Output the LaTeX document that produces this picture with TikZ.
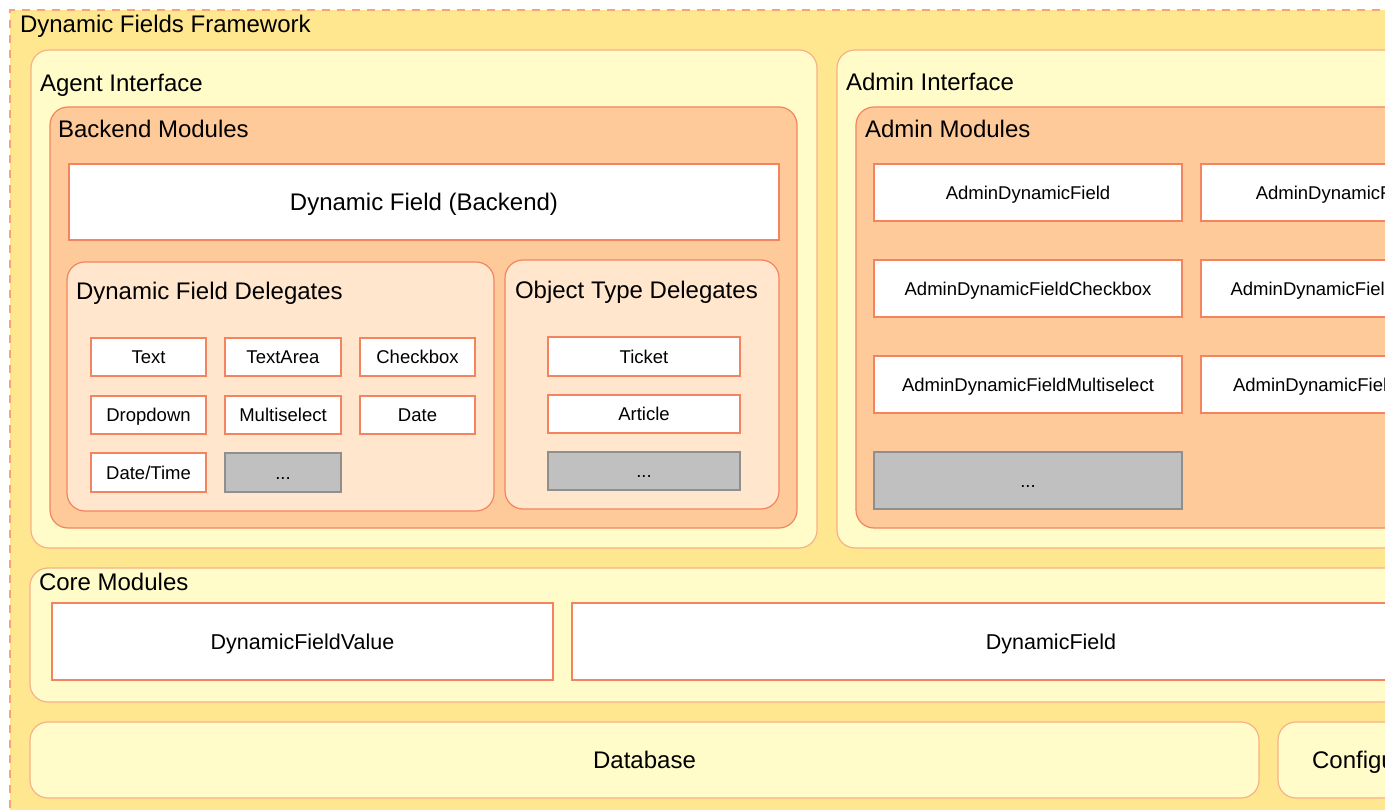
\documentclass[tikz,border=0pt]{standalone}
\usepackage{fontspec}
\setmainfont{Liberation Sans}
\definecolor{outery}{HTML}{FFE78F}
\definecolor{dashc}{HTML}{F9A27C}
\definecolor{lyel}{HTML}{FFFCC9}
\definecolor{lyelb}{HTML}{F8B08A}
\definecolor{peach}{HTML}{FFCA99}
\definecolor{cream}{HTML}{FFE6CC}
\definecolor{coral}{HTML}{F4845F}
\definecolor{grayf}{HTML}{C0C0C0}
\definecolor{grayb}{HTML}{8F8F8F}
\newcommand{\bx}[7]{\node[#2, minimum width={#5pt-#3pt}, minimum height={#6pt-#4pt}] (#1) at (#3,#4) {#7};}
\tikzset{
  every node/.style={outer sep=0pt},
  frame/.style={fill=outery, draw=dashc, line width=1.2pt, dash pattern=on 8pt off 7pt, anchor=north west, inner sep=0pt},
  cont/.style={line width=1.2pt, rounded corners=18pt, inner sep=0pt, anchor=north west, text height=17.2pt, text depth=0pt},
  lyelbox/.style={cont, fill=lyel, draw=lyelb},
  pchbox/.style={cont, fill=peach, draw=coral},
  crmbox/.style={cont, fill=cream, draw=coral},
  wbox/.style={draw=coral, fill=white, line width=1.2pt, anchor=north west, inner sep=0pt, text height=13.25pt, text depth=0pt, font=\fontsize{18.5}{20}\selectfont},
  gbox/.style={wbox, fill=grayf, draw=grayb},
  corebox/.style={wbox, text height=15.4pt, font=\fontsize{21.5}{24}\selectfont},
  bigbox/.style={wbox, text height=17.2pt, font=\fontsize{24}{26}\selectfont},
  head/.style={anchor=base west, inner sep=0pt, font=\fontsize{24}{26}\selectfont},
}
\begin{document}
\begin{tikzpicture}[x=1pt,y=-1pt]
\useasboundingbox (0,0) rectangle (1385,810);
\clip (0,0) rectangle (1385,810);
% framework
\bx{fw}{frame}{10}{10}{1410}{830}{}
\node[head] (fwt) at (20,33) {Dynamic Fields Framework};
% agent interface
\bx{ai}{lyelbox}{31}{50}{817}{548}{}
\node[head] (ait) at (40,92) {Agent Interface};
\bx{bm}{pchbox}{50}{107}{797}{528}{}
\node[head] (bmt) at (58,138) {Backend Modules};
\bx{dfb}{bigbox}{69}{164}{779}{240}{Dynamic Field (Backend)}
\bx{dfd}{crmbox}{67}{262}{494}{511}{}
\node[head] (dfdt) at (76,300) {Dynamic Field Delegates};
\bx{d1}{wbox}{91}{338}{206}{376}{Text}
\bx{d2}{wbox}{225}{338}{341}{376}{TextArea}
\bx{d3}{wbox}{360}{338}{475}{376}{Checkbox}
\bx{d4}{wbox}{91}{396}{206}{434}{Dropdown}
\bx{d5}{wbox}{225}{396}{341}{434}{Multiselect}
\bx{d6}{wbox}{360}{396}{475}{434}{Date}
\bx{d7}{wbox}{91}{453}{206}{492}{Date/Time}
\bx{d8}{gbox}{225}{453}{341}{492}{...}
\bx{otd}{crmbox}{505}{260}{779}{509}{}
\node[head] (otdt) at (515,299) {Object Type Delegates};
\bx{o1}{wbox}{548}{337}{740}{376}{Ticket}
\bx{o2}{wbox}{548}{395}{740}{433}{Article}
\bx{o3}{gbox}{548}{452}{740}{490}{...}
% admin interface
\bx{adi}{lyelbox}{837}{50}{1420}{548}{}
\node[head] (adit) at (846,91) {Admin Interface};
\bx{am}{pchbox}{856}{107}{1410}{528}{}
\node[head] (amt) at (865,138) {Admin Modules};
\bx{a1}{wbox}{874}{164}{1182}{221}{AdminDynamicField}
\bx{a2}{wbox}{874}{260}{1182}{317}{AdminDynamicFieldCheckbox}
\bx{a3}{wbox}{874}{356}{1182}{413}{AdminDynamicFieldMultiselect}
\bx{a4}{gbox}{874}{452}{1182}{509}{...}
\bx{a5}{wbox}{1201}{164}{1509}{221}{AdminDynamicFieldText}
\bx{a6}{wbox}{1201}{260}{1509}{317}{AdminDynamicFieldDropdown}
\bx{a7}{wbox}{1201}{356}{1509}{413}{AdminDynamicFieldDateTime}
% core modules
\bx{cm}{lyelbox}{30}{568}{1420}{702}{}
\node[head] (cmt) at (39,590) {Core Modules};
\bx{c1}{corebox}{52}{603}{553}{680}{DynamicFieldValue}
\bx{c2}{corebox}{572}{603}{1530}{680}{DynamicField}
% bottom
\node[lyelbox, font=\fontsize{24}{26}\selectfont, minimum width=1229pt, minimum height=76pt] (db) at (30,722) {Database};
\node[lyelbox, font=\fontsize{24}{26}\selectfont, minimum width=211pt, minimum height=76pt] (cfg) at (1278,722) {Configuration};
\end{tikzpicture}
\end{document}
